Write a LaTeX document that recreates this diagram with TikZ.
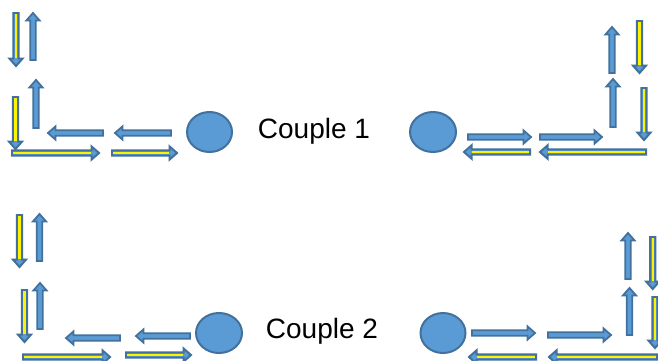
\documentclass[tikz,border=0pt]{standalone}
\usepackage{fontspec}
\setmainfont{Liberation Sans}
\usetikzlibrary{calc,shapes.geometric}
\definecolor{bfill}{HTML}{5B9BD5}
\definecolor{bline}{HTML}{41719C}
\tikzset{
  bluearrow/.style={fill=bfill, draw=bline, line width=1.8pt, line join=miter},
  yelarrow/.style={fill=bfill, draw=bline, line width=2pt, line join=miter},
  yelstripe/.style={draw=yellow, line width=2.4pt},
  disc/.style={ellipse, fill=bfill, draw=bline, line width=2pt, inner sep=0pt},
  label/.style={font=\fontsize{28}{32}\selectfont, anchor=base, inner sep=0pt},
}
% \blockarrow{name}{style}{tail}{tip}
\newcommand\blockarrow[4]{%
  \coordinate (#1-t) at (#3);
  \coordinate (#1-h) at (#4);
  \coordinate (#1-n) at ($(#1-h)!7.5pt!(#1-t)$);
  \draw[#2]
    ($(#1-t)!2.7pt!90:(#1-h)$) -- ($(#1-n)!2.7pt!90:(#1-h)$) --
    ($(#1-n)!6.6pt!90:(#1-h)$) -- (#1-h) --
    ($(#1-n)!6.6pt!-90:(#1-h)$) -- ($(#1-n)!2.7pt!-90:(#1-h)$) --
    ($(#1-t)!2.7pt!-90:(#1-h)$) -- cycle;
}
% yellow-striped arrow
\newcommand\yarrow[3]{%
  \blockarrow{#1}{yelarrow}{#2}{#3}
  \draw[yelstripe] ($(#1-t)!1pt!(#1-h)$) -- ($(#1-n)!-0.5pt!(#1-h)$);
}
\begin{document}
\begin{tikzpicture}[x=1pt,y=-1pt]
\useasboundingbox[fill=white] (0,0) rectangle (658,360);
% ---- Couple 1, left
\yarrow{a1}{16,13}{16,66}
\blockarrow{a2}{bluearrow}{33,60}{33,13}
\yarrow{a3}{15.5,97}{15.5,149}
\blockarrow{a4}{bluearrow}{36,128}{36,80}
\blockarrow{a5}{bluearrow}{103,133}{48,133}
\blockarrow{a6}{bluearrow}{171,133}{115,133}
\yarrow{a7}{12,153}{99,153}
\yarrow{a8}{112,153}{177,153}
\node[disc, minimum width=45pt, minimum height=40pt] (c1) at (209.5,132) {};
\node[label] (t1) at (314,138) {Couple 1};
% ---- Couple 1, right
\node[disc, minimum width=46pt, minimum height=40pt] (c2) at (433,132) {};
\blockarrow{b1}{bluearrow}{468,137}{531,137}
\blockarrow{b2}{bluearrow}{540,137}{602,137}
\yarrow{b3}{530,152}{464,152}
\yarrow{b4}{646,152}{540,152}
\blockarrow{b5}{bluearrow}{612,73}{612,27}
\blockarrow{b6}{bluearrow}{613,127}{613,79}
\yarrow{b7}{639.5,21}{639.5,73}
\yarrow{b8}{644,88}{644,140}
% ---- Couple 2, left
\yarrow{d1}{19.5,215}{19.5,267}
\blockarrow{d2}{bluearrow}{39.5,261}{39.5,214}
\yarrow{d3}{24.5,290}{24.5,342}
\blockarrow{d4}{bluearrow}{40,329}{40,283}
\blockarrow{d5}{bluearrow}{120,338}{66,338}
\blockarrow{d6}{bluearrow}{190,336}{136,336}
\yarrow{d7}{23,357}{110,357}
\yarrow{d8}{126,355}{191,355}
\node[disc, minimum width=46pt, minimum height=40pt] (c3) at (219,333) {};
\node[label] (t2) at (322,338) {Couple 2};
% ---- Couple 2, right
\node[disc, minimum width=45pt, minimum height=40pt] (c4) at (443,333) {};
\blockarrow{e1}{bluearrow}{472,333}{535,333}
\blockarrow{e2}{bluearrow}{548,335}{611,335}
\yarrow{e3}{536,357}{469,357}
\yarrow{e4}{657,357}{549,357}
\blockarrow{e5}{bluearrow}{628,279}{628,233}
\blockarrow{e6}{bluearrow}{629.5,335}{629.5,288}
\yarrow{e7}{652.7,237}{652.7,289}
\yarrow{e8}{655,297}{655,348}
\end{tikzpicture}
\end{document}
